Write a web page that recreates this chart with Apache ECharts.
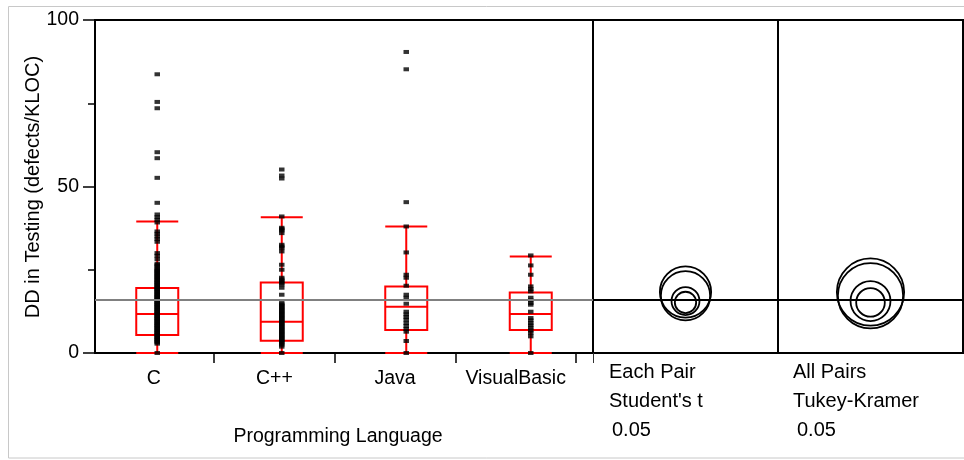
<!DOCTYPE html>
<html>
<head>
<meta charset="utf-8">
<script src="https://cdn.jsdelivr.net/npm/echarts@6/dist/echarts.min.js"></script>
<style>html,body{margin:0;padding:0;background:#fff}#c{width:964px;height:460px}</style>
</head>
<body>
<div id="c"></div>
<script>
const categories = ['C', 'C++', 'Java', 'VisualBasic'];
const yTicks = [0, 50, 100];
const grandMean = 16;

// raw points
const ptsC = [83.7, 75.4, 73.5, 60.3, 58.5, 52.6, 45.1, 41.6, 40.8, 40.0, 39.2, 36.5, 35.8, 35.0, 34.2, 33.4, 30.0, 29.2, 28.2, 26.8, 26.0, 25.3, 24.6, 23.9, 23.1, 22.4, 21.7, 21.0, 20.3, 19.6, 18.9, 18.2, 17.5, 16.8, 16.1, 15.4, 14.7, 14.0, 13.3, 12.6, 11.9, 11.2, 10.5, 9.8, 9.1, 8.4, 7.7, 7.0, 6.3, 5.6, 4.9, 4.2, 3.5, 2.8, 0.0,
  26.4, 25.0, 24.2, 23.5, 22.8, 22.0, 21.3, 20.6, 19.9, 19.2, 18.5, 17.8, 17.1, 16.5, 15.8, 15.1, 14.4, 13.7, 13.0, 12.3, 11.6, 10.9, 10.2, 9.5, 8.8, 8.1, 7.4, 6.7, 6.0, 5.3, 4.6, 3.9, 3.2];
const ptsCpp = [55.1, 53.3, 52.4, 41.0, 37.6, 36.8, 36.0, 32.5, 31.5, 30.5, 26.5, 25.0, 22.6, 21.6, 20.6, 19.6, 17.5, 15.0, 14.2, 13.4, 12.6, 11.8, 11.0, 10.2, 9.4, 8.6, 7.8, 7.0, 6.2, 5.4, 4.6, 3.8, 3.0, 1.9, 0.0,
  14.6, 13.8, 13.0, 12.2, 11.4, 10.6, 9.8, 9.0, 8.2, 7.4, 6.6, 5.8, 5.0, 4.2, 3.4, 2.5, 37.2, 32.0, 22.1, 21.1];
const ptsJava = [90.4, 85.2, 45.3, 38.0, 30.2, 23.5, 22.6, 20.2, 17.5, 16.6, 14.8, 12.4, 11.6, 10.8, 10.0, 9.0, 8.1, 7.2, 6.4, 3.6, 0.0];
const ptsVB = [29.3, 26.3, 23.5, 20.0, 19.2, 18.5, 16.6, 15.8, 15.0, 14.5, 12.4, 10.5, 9.8, 9.0, 8.3, 7.6, 6.8, 6.0, 5.0, 0.0];

// box stats [min, Q1, median, Q3, max]
const boxC = [0, 5.4, 11.7, 19.5, 39.5];
const boxCpp = [0, 3.7, 9.4, 21.2, 40.8];
const boxJava = [0, 6.9, 13.9, 20.0, 38.0];
const boxVB = [0, 6.9, 11.7, 18.2, 29.0];

// comparison circles
const groupMeans = [15.2, 15.6, 18.3, 17.2];
const studentRadius = [3.2, 4.2, 7.7, 7.4];
const tukeyRadius = [4.3, 6.0, 10.1, 9.8];

const FONT = '"Liberation Sans", Arial, sans-serif';
const allPts = [ptsC, ptsCpp, ptsJava, ptsVB];
const scatterData = [];
allPts.forEach((arr, i) => arr.forEach(v => scatterData.push([categories[i], v])));

function circleSeries(xi, radii) {
  return {
    type: 'custom', xAxisIndex: xi, yAxisIndex: xi, z: 5,
    data: groupMeans.map((m, i) => [0.5, m, radii[i]]),
    renderItem: function (params, api) {
      const c = api.coord([api.value(0), api.value(1)]);
      const s = api.size([0, api.value(2)]);
      return { type: 'circle', shape: { cx: c[0], cy: c[1], r: s[1] },
        style: { fill: 'none', stroke: '#000', lineWidth: 1.8 } };
    },
    markLine: { silent: true, symbol: 'none', label: { show: false },
      lineStyle: { color: '#000', width: 2, type: 'solid' }, data: [{ yAxis: grandMean }] }
  };
}

const hiddenY = (gi) => ({ type: 'value', gridIndex: gi, min: 0, max: 100, show: false });
const gridBase = { top: 20, height: 333, show: true, borderColor: '#000', borderWidth: 2, backgroundColor: 'transparent', containLabel: false };

const option = {
  animation: false,
  textStyle: { fontFamily: FONT },
  grid: [
    Object.assign({ left: 95, width: 498 }, gridBase),
    Object.assign({ left: 593, width: 185 }, gridBase),
    Object.assign({ left: 778, width: 185 }, gridBase),
    { left: 93.5, width: 482.5, top: 20, height: 333, show: false }
  ],
  xAxis: [
    { type: 'category', gridIndex: 0, data: categories, boundaryGap: true,
      axisLine: { show: true, lineStyle: { color: '#000', width: 2 } },
      axisTick: { show: false }, axisLabel: { show: false }, splitLine: { show: false } },
    { type: 'value', gridIndex: 1, min: 0, max: 1,
      axisLine: { show: false }, axisLabel: { show: false }, splitLine: { show: false },
      axisTick: { show: true, customValues: [0], length: 10, lineStyle: { color: '#333', width: 1 } } },
    { type: 'value', gridIndex: 2, min: 0, max: 1, show: false },
    { type: 'value', gridIndex: 3, min: 0, max: 4,
      axisLine: { show: false }, splitLine: { show: false },
      axisTick: { show: true, customValues: [1, 2, 3, 4], length: 10, lineStyle: { color: '#000', width: 1.5 } },
      axisLabel: { show: true, customValues: [0.5, 1.5, 2.5, 3.5], margin: 16,
        color: '#000', fontSize: 19.5, fontFamily: FONT,
        formatter: v => categories[Math.floor(v)] } }
  ],
  yAxis: [
    { type: 'value', gridIndex: 0, min: yTicks[0], max: yTicks[yTicks.length - 1], interval: 50,
      axisLine: { show: true, lineStyle: { color: '#000', width: 2 } },
      axisTick: { show: true, length: 12, lineStyle: { color: '#000', width: 1.5 } },
      minorTick: { show: true, splitNumber: 2, length: 7, lineStyle: { color: '#000', width: 1.5 } },
      axisLabel: { margin: 16, color: '#000', fontSize: 19.5, fontFamily: FONT },
      splitLine: { show: false } },
    hiddenY(1), hiddenY(2), hiddenY(3)
  ],
  series: [
    { type: 'boxplot', xAxisIndex: 0, yAxisIndex: 0, z: 3,
      boxWidth: [42, 42],
      data: [boxC, boxCpp, boxJava, boxVB],
      itemStyle: { color: 'transparent', borderColor: '#ff0000', borderWidth: 2 },
      markLine: { silent: true, symbol: 'none', label: { show: false },
        lineStyle: { color: '#808080', width: 1.8, type: 'solid' }, data: [{ yAxis: grandMean }] } },
    { type: 'scatter', xAxisIndex: 0, yAxisIndex: 0, z: 4,
      symbol: 'rect', symbolSize: [5.5, 4],
      itemStyle: { color: '#000' }, data: scatterData },
    circleSeries(1, studentRadius),
    circleSeries(2, tukeyRadius)
  ],
  graphic: [
    { type: 'rect', z: -1, shape: { x: 8.5, y: 6.5, width: 965, height: 451.5 },
      style: { fill: 'none', stroke: '#c8c8c8', lineWidth: 1 } },
    { type: 'text', x: 33, y: 187, rotation: Math.PI / 2,
      style: { text: 'DD in Testing (defects/KLOC)', font: '20px ' + FONT, fill: '#000', align: 'center', verticalAlign: 'middle' } },
    { type: 'text', x: 338, y: 437,
      style: { text: 'Programming Language', font: '19.5px ' + FONT, fill: '#000', align: 'center', verticalAlign: 'middle' } },
    { type: 'text', x: 609, y: 372, style: { text: 'Each Pair', font: '20px ' + FONT, fill: '#000', verticalAlign: 'middle' } },
    { type: 'text', x: 609, y: 401.5, style: { text: "Student's t", font: '20px ' + FONT, fill: '#000', verticalAlign: 'middle' } },
    { type: 'text', x: 612, y: 430.5, style: { text: '0.05', font: '20px ' + FONT, fill: '#000', verticalAlign: 'middle' } },
    { type: 'text', x: 793, y: 372, style: { text: 'All Pairs', font: '20px ' + FONT, fill: '#000', verticalAlign: 'middle' } },
    { type: 'text', x: 793, y: 401.5, style: { text: 'Tukey-Kramer', font: '20px ' + FONT, fill: '#000', verticalAlign: 'middle' } },
    { type: 'text', x: 797, y: 430.5, style: { text: '0.05', font: '20px ' + FONT, fill: '#000', verticalAlign: 'middle' } }
  ]
};
const chart = echarts.init(document.getElementById('c'), null, { renderer: 'canvas' });
chart.setOption(option);
</script>
</body>
</html>
